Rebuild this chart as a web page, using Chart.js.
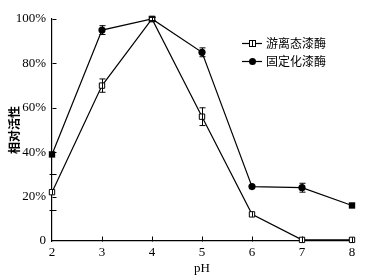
<!DOCTYPE html>
<html>
<head>
<meta charset="utf-8">
<script src="https://cdn.jsdelivr.net/npm/chart.js@4"></script>
<style>
  html, body { margin: 0; padding: 0; background: #fff; }
  #wrap { width: 388px; height: 280px; }
</style>
</head>
<body>
<div id="wrap"><canvas id="chart" width="388" height="280"></canvas></div>
<script>
// pH vs atividade relativa: lacase livre x imobilizada, com barras de erro
const phValues = [2, 3, 4, 5, 6, 7, 8];
const freeActivity = [22, 70, 100, 56, 12, 0.5, 0.5];
const freeError = [0, 3, 0.8, 4, 0, 0, 0];
const immobilizedActivity = [39, 95, 100, 85, 24.5, 24, 16];
const immobilizedError = [0, 2, 0.8, 2, 0, 2, 0];
const immobilizedStyles = ["rect", "circle", "rect", "circle", "circle", "circle", "rect"];
const yTickValues = [0, 14, 20, 30, 40, 60, 80, 100];
const yLabelValues = [0, 20, 40, 60, 80, 100];
const xTickValues = [2, 3, 4, 5, 6, 7, 8];
const labels = ["游离态漆酶", "固定化漆酶"];

const SERIF = "'Liberation Serif', 'DejaVu Serif', serif";
const CJK = "'Noto Sans CJK SC', sans-serif";

function pontos(ys) {
  return phValues.map((x, i) => ({ x: x, y: ys[i] }));
}

// barras de erro + marcas internas dos eixos + legenda
const extras = {
  id: "extras",
  afterDatasetsDraw(chart) {
    const ctx = chart.ctx;
    const xs = chart.scales.x, ys = chart.scales.y;
    ctx.save();
    ctx.strokeStyle = "#000";
    ctx.lineWidth = 1;
    [[freeActivity, freeError], [immobilizedActivity, immobilizedError]].forEach(([vals, errs]) => {
      vals.forEach((v, i) => {
        if (!errs[i]) return;
        const px = Math.round(xs.getPixelForValue(phValues[i])) + 0.5;
        const top = ys.getPixelForValue(v + errs[i]);
        const bot = ys.getPixelForValue(v - errs[i]);
        ctx.beginPath();
        ctx.moveTo(px, top); ctx.lineTo(px, bot);
        ctx.moveTo(px - 3, top); ctx.lineTo(px + 3, top);
        ctx.moveTo(px - 3, bot); ctx.lineTo(px + 3, bot);
        ctx.stroke();
      });
    });

    // cruz vertical dentro dos quadrados abertos
    const meta = chart.getDatasetMeta(0);
    meta.data.forEach((pt) => {
      ctx.beginPath();
      ctx.moveTo(Math.round(pt.x) + 0.5, pt.y - 2.5);
      ctx.lineTo(Math.round(pt.x) + 0.5, pt.y + 2.5);
      ctx.stroke();
    });

    // marcas dos eixos
    const ax = Math.round(xs.left) + 0.5;
    yTickValues.forEach((v) => {
      if (v === 0) return;
      const py = Math.round(ys.getPixelForValue(v)) + 0.5;
      const minor = !yLabelValues.includes(v);
      ctx.beginPath();
      ctx.moveTo(ax - (minor ? 3 : 0), py);
      ctx.lineTo(ax + 4, py);
      ctx.stroke();
    });
    const ay = Math.round(ys.bottom) + 0.5;
    xTickValues.slice(1, -1).forEach((v) => {
      const px = Math.round(xs.getPixelForValue(v)) + 0.5;
      ctx.beginPath();
      ctx.moveTo(px, ay);
      ctx.lineTo(px, ay - 5);
      ctx.stroke();
    });

    // legenda
    ctx.font = "12px " + CJK;
    ctx.fillStyle = "#000";
    ctx.textBaseline = "middle";
    chart.data.datasets.forEach((ds, i) => {
      const y = 43 + i * 18 + 0.5;
      ctx.beginPath();
      ctx.moveTo(242, y); ctx.lineTo(262, y);
      ctx.lineWidth = 1.2;
      ctx.stroke();
      ctx.lineWidth = 1;
      if (i === 0) {
        ctx.fillStyle = "#fff";
        ctx.fillRect(249.5, y - 3, 6, 6);
        ctx.strokeRect(249.5, y - 3, 6, 6);
        ctx.beginPath();
        ctx.moveTo(252.5, y - 3); ctx.lineTo(252.5, y + 3);
        ctx.stroke();
      } else {
        ctx.fillStyle = "#000";
        ctx.beginPath();
        ctx.arc(252.5, y, 3.5, 0, Math.PI * 2);
        ctx.fill();
      }
      ctx.fillStyle = "#000";
      ctx.fillText(ds.label, 266, y);
    });
    ctx.restore();
  },
};

new Chart(document.getElementById("chart"), {
  type: "line",
  data: {
    datasets: [
      {
        label: labels[0],
        data: pontos(freeActivity),
        borderColor: "#000",
        borderWidth: 1.2,
        backgroundColor: "#fff",
        pointStyle: "rect",
        pointRadius: 3.8,
        pointBorderWidth: 1,
        pointBorderColor: "#000",
        pointBackgroundColor: "#fff",
        tension: 0,
        clip: false,
      },
      {
        label: labels[1],
        data: pontos(immobilizedActivity),
        borderColor: "#000",
        borderWidth: 1.2,
        backgroundColor: "#000",
        pointStyle: immobilizedStyles,
        pointRadius: immobilizedStyles.map((s) => (s === "rect" ? 4.5 : 3.6)),
        pointBorderWidth: 0,
        pointBackgroundColor: "#000",
        tension: 0,
        clip: false,
      },
    ],
  },
  options: {
    responsive: false,
    animation: false,
    layout: { padding: { top: 19, right: 36, left: 0, bottom: 0 } },
    plugins: { legend: { display: false }, tooltip: { enabled: false } },
    scales: {
      x: {
        type: "linear",
        min: 2,
        max: 8,
        afterBuildTicks: (s) => { s.ticks = xTickValues.map((v) => ({ value: v })); },
        grid: { display: false, drawTicks: false },
        border: { color: "#000", width: 1.2 },
        ticks: { color: "#000", padding: 4, font: { family: SERIF, size: 13 } },
        title: { display: true, text: "pH", color: "#000", padding: { top: 2, bottom: 4 }, font: { family: SERIF, size: 13 } },
        afterFit: (s) => { s.height = 39; },
      },
      y: {
        min: 0,
        max: 100,
        afterBuildTicks: (s) => { s.ticks = yTickValues.map((v) => ({ value: v })); },
        grid: { display: false, drawTicks: false },
        border: { color: "#000", width: 1.2 },
        ticks: {
          color: "#000",
          padding: 6,
          font: { family: SERIF, size: 13 },
          callback: (v) => (yLabelValues.includes(v) ? (v === 0 ? "0" : v + "%") : ""),
        },
        title: { display: true, text: "相对活性", color: "#000", padding: { top: 7, bottom: 2 }, font: { family: CJK, size: 12, weight: "bold" } },
        afterFit: (s) => { s.width = 52; },
      },
    },
  },
  plugins: [extras],
});
</script>
</body>
</html>
